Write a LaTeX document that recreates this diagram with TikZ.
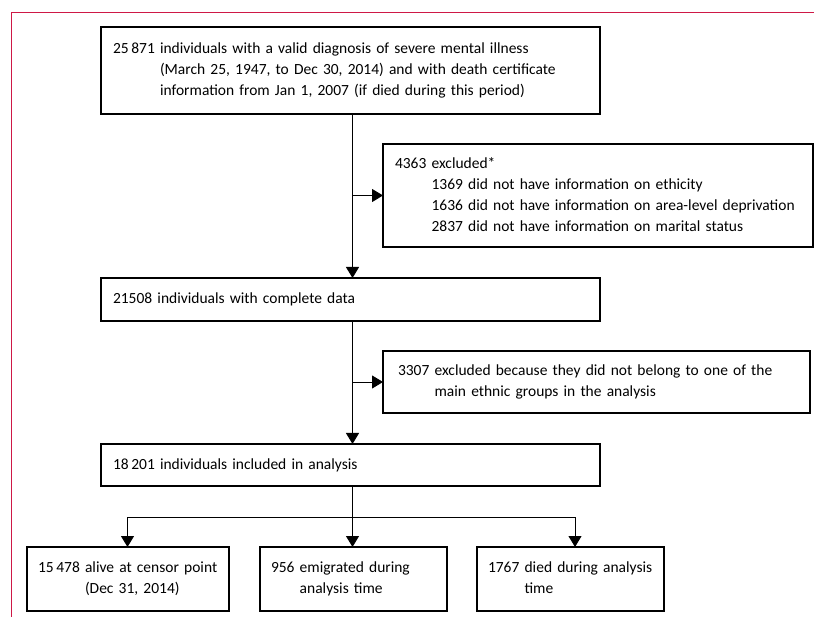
\documentclass[tikz,border=0pt]{standalone}
\usepackage{fontspec}
\setmainfont{Carlito}
\usetikzlibrary{arrows.meta}
\definecolor{framered}{RGB}{206,24,70}
\begin{document}
\begin{tikzpicture}[x=1pt,y=-1pt,
  box/.style={draw, line width=1.1pt, rectangle, anchor=north west, outer sep=0pt,
    inner xsep=12pt, inner ysep=0pt, align=left, font=\fontsize{15.5}{21}\selectfont},
  arr/.style={line width=0.9pt, -{Triangle[length=11pt,width=13pt]}},
  ln/.style={line width=0.9pt},
  frame/.style={draw=framered, line width=1.1pt}]
\useasboundingbox (0,0) rectangle (814,617);
% frame
\coordinate (fc) at (11.7,12.3);
\coordinate (fr) at (814,12.3);
\coordinate (fb) at (11.7,617);
\draw[frame] (fr) -- (fc) -- (fb);

\node[box, minimum width=499pt, text width=475pt, minimum height=87pt] (top) at (101,27)
 {\begin{tabular}{@{}l@{\ }l@{}}25\,871 & individuals with a valid diagnosis of severe mental illness\\
  & (March 25, 1947, to Dec 30, 2014) and with death certificate\\
  & information from Jan 1, 2007 (if died during this period)\end{tabular}};

\node[box, minimum width=430pt, text width=406pt, minimum height=103pt] (ex1) at (383,144)
 {\begin{tabular}{@{}l@{\ }l@{}}4363 & excluded*\\
  & 1369 did not have information on ethicity\\
  & 1636 did not have information on area-level deprivation\\
  & 2837 did not have information on marital status\end{tabular}};

\node[box, minimum width=499pt, text width=475pt, minimum height=43pt] (mid) at (101,278)
 {21508 individuals with complete data};

\node[box, inner xsep=15pt, minimum width=427pt, text width=397pt, minimum height=62pt] (ex2) at (383,351)
 {\begin{tabular}{@{}l@{\ }l@{}}3307 & excluded because they did not belong to one of the\\
  & main ethnic groups in the analysis\end{tabular}};

\node[box, minimum width=499pt, text width=475pt, minimum height=42pt] (inc) at (101,444)
 {18\,201 individuals included in analysis};

\node[box, inner xsep=11pt, minimum width=202pt, text width=180pt, minimum height=64pt] (alive) at (27,547)
 {\begin{tabular}{@{}l@{\ }l@{}}15\,478 & alive at censor point\\ & (Dec 31, 2014)\end{tabular}};
\node[box, inner xsep=11pt, minimum width=187pt, text width=165pt, minimum height=64pt] (emig) at (260,547)
 {\begin{tabular}{@{}l@{\ }l@{}}956 & emigrated during\\ & analysis time\end{tabular}};
\node[box, inner xsep=11pt, minimum width=187pt, text width=165pt, minimum height=64pt] (died) at (477,547)
 {\begin{tabular}{@{}l@{\ }l@{}}1767 & died during analysis\\ & time\end{tabular}};

% connectors
\coordinate (spine) at (352.5,0);
\coordinate (j1) at (127.5,517.3);
\coordinate (j2) at (352.5,517.3);
\coordinate (j3) at (575,517.3);

\draw[arr] (top.south -| spine) -- (mid.north -| spine);
\draw[arr] (spine |- ex1.west) -- (ex1.west);
\draw[arr] (mid.south -| spine) -- (inc.north -| spine);
\draw[arr] (spine |- ex2.west) -- (ex2.west);
\draw[arr] (inc.south -| spine) -- (emig.north -| spine);
\draw[ln] (j1) -- (j3);
\draw[arr] (j1) -- (j1 |- alive.north);
\draw[arr] (j3) -- (j3 |- died.north);
\end{tikzpicture}
\end{document}
